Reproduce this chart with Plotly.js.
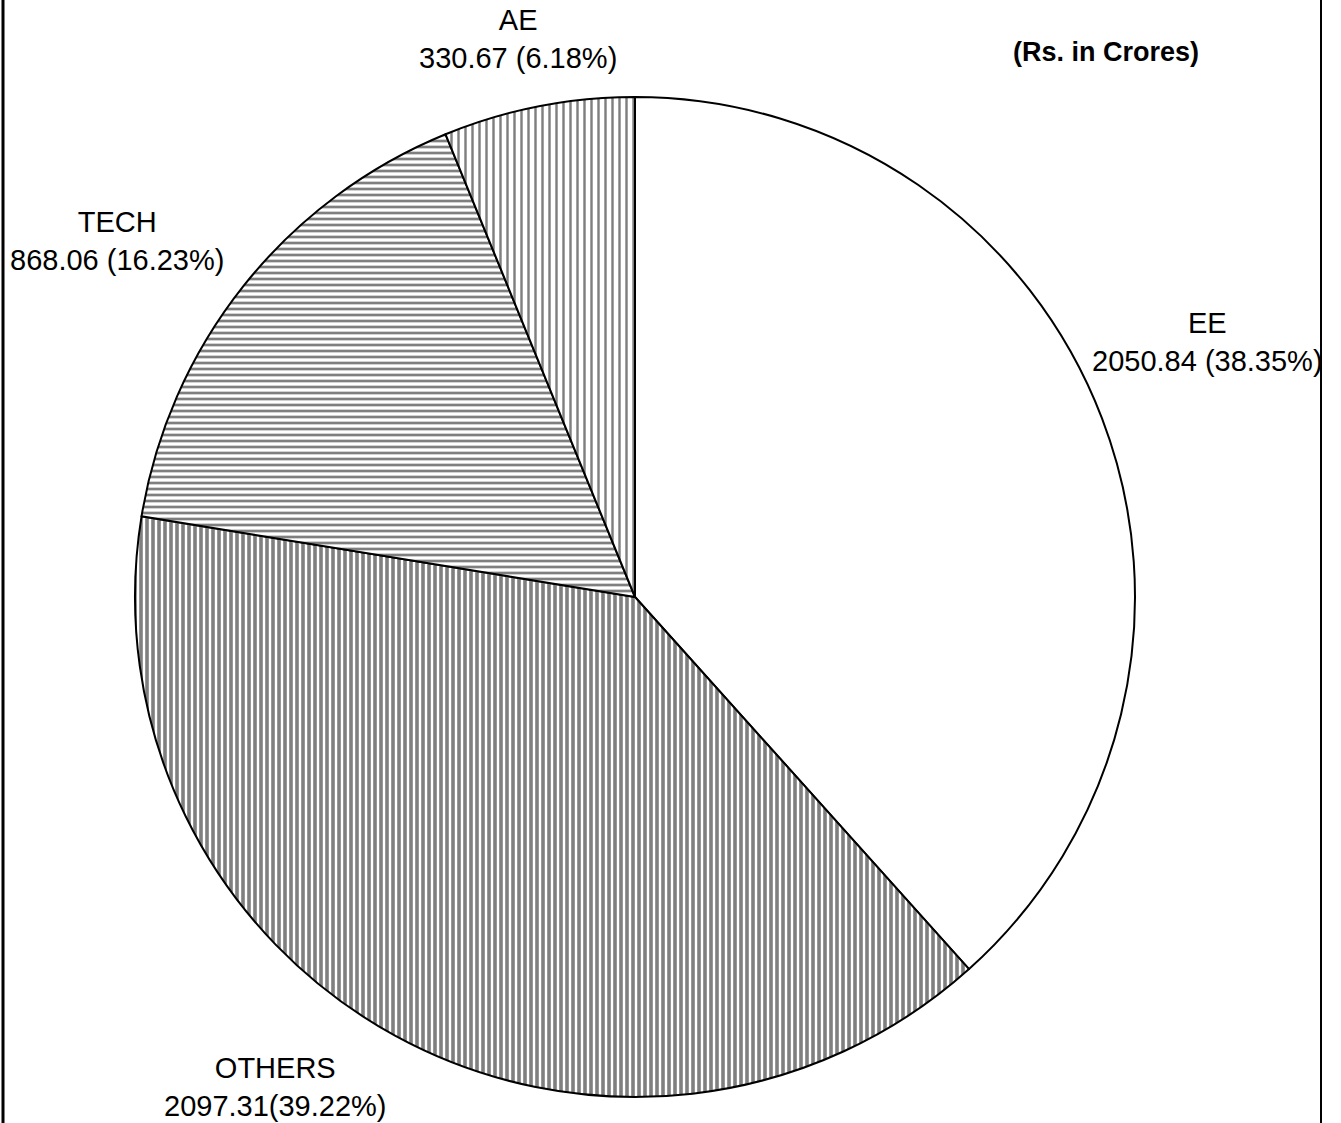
<!DOCTYPE html>
<html>
<head>
<meta charset="utf-8">
<script src="https://cdn.plot.ly/plotly-3.0.1.min.js"></script>
<style>html,body{margin:0;padding:0;background:#fff;}#chart{width:1341px;height:1123px;}</style>
</head>
<body>
<div id="chart"></div>
<script>
const categories = ["EE", "OTHERS", "TECH", "AE"];
const values = [2050.84, 2097.31, 868.06, 330.67];
const valueLabels = ["2050.84 (38.35%)", "2097.31(39.22%)", "868.06 (16.23%)", "330.67 (6.18%)"];
const unitNote = "(Rs. in Crores)";

const W = 1341, H = 1123;
// label centre positions (pixels) per category
const labelPos = {EE: [1207, 342], OTHERS: [275, 1087], TECH: [117, 241], AE: [518, 39]};

const cx = 635, cy = 597, r = 500;

const trace = {
  type: "pie",
  labels: categories,
  values: values,
  sort: false,
  direction: "clockwise",
  rotation: 0,
  textinfo: "none",
  hoverinfo: "label+value+percent",
  showlegend: false,
  domain: {x: [(cx - r) / W, (cx + r) / W], y: [(H - cy - r) / H, (H - cy + r) / H]},
  marker: {
    colors: ["#ffffff", "#ffffff", "#ffffff", "#ffffff"],
    line: {color: "#000000", width: 2},
    pattern: {
      shape: ["", "|", "-", "|"],
      size: [6, 6, 6, 7],
      solidity: [0.3, 0.6, 0.45, 0.35],
      fgcolor: "#000000",
      bgcolor: "#ffffff",
      fillmode: "overlay"
    }
  }
};

const annotations = categories.map((c, i) => ({
  xref: "paper", yref: "paper",
  x: labelPos[c][0] / W, y: 1 - labelPos[c][1] / H,
  xanchor: "center", yanchor: "middle",
  text: c + "<br>" + valueLabels[i],
  showarrow: false,
  font: {family: "Liberation Sans, Arial, sans-serif", size: 29, color: "#000"}
}));
annotations.push({
  xref: "paper", yref: "paper",
  x: 1106 / W, y: 1 - 52 / H,
  xanchor: "center", yanchor: "middle",
  text: "<b>" + unitNote + "</b>",
  showarrow: false,
  font: {family: "Liberation Sans, Arial, sans-serif", size: 27, color: "#000"}
});

const layout = {
  width: W, height: H,
  margin: {l: 0, r: 0, t: 0, b: 0},
  paper_bgcolor: "#ffffff",
  plot_bgcolor: "#ffffff",
  annotations: annotations,
  shapes: [
    {type: "line", xref: "paper", yref: "paper", x0: 3 / W, x1: 3 / W, y0: 0, y1: 1, line: {color: "#000", width: 3}},
    {type: "line", xref: "paper", yref: "paper", x0: 1321 / W, x1: 1321 / W, y0: 0, y1: 1, line: {color: "#000", width: 2}}
  ]
};

Plotly.newPlot("chart", [trace], layout, {displayModeBar: false, staticPlot: true});
</script>
</body>
</html>
